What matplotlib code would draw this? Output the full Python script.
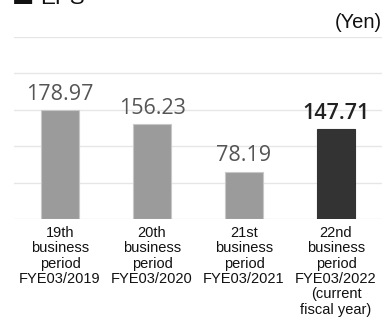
import matplotlib
matplotlib.use("Agg")
import matplotlib.pyplot as plt

periods = [
    "19th\nbusiness\nperiod\nFYE03/2019",
    "20th\nbusiness\nperiod\nFYE03/2020",
    "21st\nbusiness\nperiod\nFYE03/2021",
    "22nd\nbusiness\nperiod\nFYE03/2022\n(current\nfiscal year)",
]
eps = [178.97, 156.23, 78.19, 147.71]
grid_ticks = [0, 60, 120, 180, 240, 300]

W, H = 384, 320
fig = plt.figure(figsize=(W / 100, H / 100), dpi=100)
ax = fig.add_axes([14 / W, 1 - 219 / H, (382 - 14) / W, (219 - 37) / H])

x = list(range(len(eps)))
colors = ["#9b9b9b"] * (len(eps) - 1) + ["#333333"]
edges = ["#c8c8c8"] * (len(eps) - 1) + ["#333333"]
ax.bar(x, eps, width=0.41, color=colors, edgecolor=edges, linewidth=0.8, zorder=3)

for i, v in enumerate(eps):
    last = i == len(eps) - 1
    ax.annotate(f"{v:.2f}", (i, v), xytext=(0, 4), textcoords="offset points",
                ha="center", va="bottom", fontsize=15.5, family="Open Sans",
                fontweight="semibold" if last else "normal",
                color="#222222" if last else "#555555")

ax.set_xlim(-0.5, len(eps) - 0.5)
ax.set_ylim(0, 300)
ax.set_yticks(grid_ticks)
ax.yaxis.grid(True, color="#e6e6e6", linewidth=1.0, zorder=0)
ax.tick_params(axis="y", left=False, labelleft=False)
ax.set_xticks(x)
ax.set_xticklabels(periods, family="Liberation Sans", fontsize=10.5, color="#111111",
                   linespacing=1.12, va="top")
ax.tick_params(axis="x", length=0, pad=5)
for s in ax.spines.values():
    s.set_visible(False)

# section heading sitting at the very top edge
fig.text(12 / W, 1 - 1.5 / H, "■", ha="left", va="baseline",
         family="DejaVu Sans", fontsize=17, color="#111111")
fig.text(40 / W, 1 - 4 / H, "EPS", ha="left", va="baseline",
         family="Liberation Sans", fontsize=16, color="#111111")
fig.text(382 / W, 1 - 22 / H, "(Yen)", ha="right", va="center",
         family="Liberation Sans", fontsize=14.5, color="#111111")

fig.savefig("out.png", dpi=100)
